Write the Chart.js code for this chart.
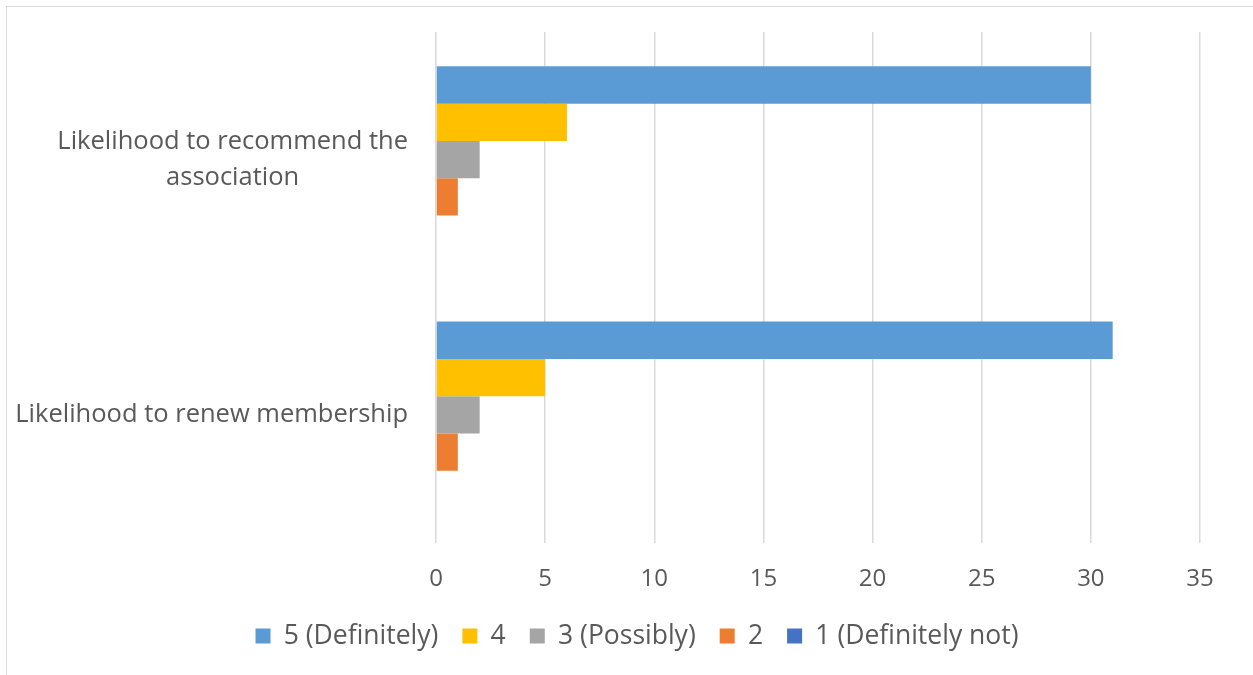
<!DOCTYPE html>
<html><head><meta charset="utf-8">
<script src="https://cdn.jsdelivr.net/npm/chart.js@4.4.1/dist/chart.umd.min.js"></script>
<style>
html,body{margin:0;padding:0;background:#fff;overflow:hidden;width:1253px;height:675px;}
#frame{position:absolute;left:6px;top:6px;width:2000px;height:2000px;border:1.5px solid #d9d9d9;}
#wrap{position:absolute;left:0;top:0;width:1253px;height:675px;}
</style></head>
<body>
<div id="frame"></div>
<div id="wrap"><canvas id="c" width="1253" height="675"></canvas></div>
<script>
// ---- data ----
const categories = [["Likelihood to recommend the", "association"], ["Likelihood to renew membership"]];
const seriesNames = ["5 (Definitely)", "4", "3 (Possibly)", "2", "1 (Definitely not)"];
const s5 = [30, 31];
const s4 = [6, 5];
const s3 = [2, 2];
const s2 = [1, 1];
const s1 = [0, 0];
const xMin = 0, xMax = 35, xStep = 5;

const seriesValues = [s5, s4, s3, s2, s1];
const colors = ["#5B9BD5", "#FFC000", "#A5A5A5", "#ED7D31", "#4472C4"];
const textColor = "#595959";

const catLabelPlugin = {
  id: 'catLabels',
  afterDraw(chart) {
    const ys = chart.scales.y;
    const ctx = chart.ctx;
    ctx.save();
    ctx.font = '25.5px "Open Sans"';
    ctx.fillStyle = textColor;
    ctx.textAlign = 'center';
    ctx.textBaseline = 'middle';
    const lh = 36;
    const right = chart.chartArea.left - 28;
    categories.forEach((lines, i) => {
      const arr = Array.isArray(lines) ? lines : [lines];
      const w = Math.max(...arr.map(s => ctx.measureText(s).width));
      const cx = right - w / 2;
      const py = ys.getPixelForValue(i);
      arr.forEach((s, j) => {
        ctx.fillText(s, cx, py + (j - (arr.length - 1) / 2) * lh);
      });
    });
    ctx.restore();
  }
};

new Chart(document.getElementById('c'), {
  type: 'bar',
  data: {
    labels: categories,
    datasets: seriesNames.map((n, i) => ({
      label: n,
      data: seriesValues[i],
      backgroundColor: colors[i],
      borderWidth: 0,
      categoryPercentage: 0.731,
      barPercentage: 1.0
    }))
  },
  options: {
    indexAxis: 'y',
    responsive: false,
    animation: false,
    devicePixelRatio: 1,
    layout: { padding: { left: 74, right: 53, top: 32, bottom: 15.75 } },
    scales: {
      x: {
        min: xMin, max: xMax,
        ticks: { stepSize: xStep, color: textColor, font: { family: 'Open Sans', size: 24 }, padding: 22 },
        grid: { color: '#d9d9d9', lineWidth: 1.5, drawTicks: false },
        border: { display: false },
        afterFit(s) { s.height = 56.25; }
      },
      y: {
        ticks: { display: false },
        grid: { display: false },
        border: { display: false },
        afterFit(s) { s.width = 362; }
      }
    },
    plugins: {
      legend: {
        position: 'bottom',
        labels: { boxWidth: 15, boxHeight: 15, padding: 24, color: textColor, font: { family: 'Open Sans', size: 26.5 } }
      },
      tooltip: { enabled: false }
    }
  },
  plugins: [catLabelPlugin]
});
</script>
</body></html>
